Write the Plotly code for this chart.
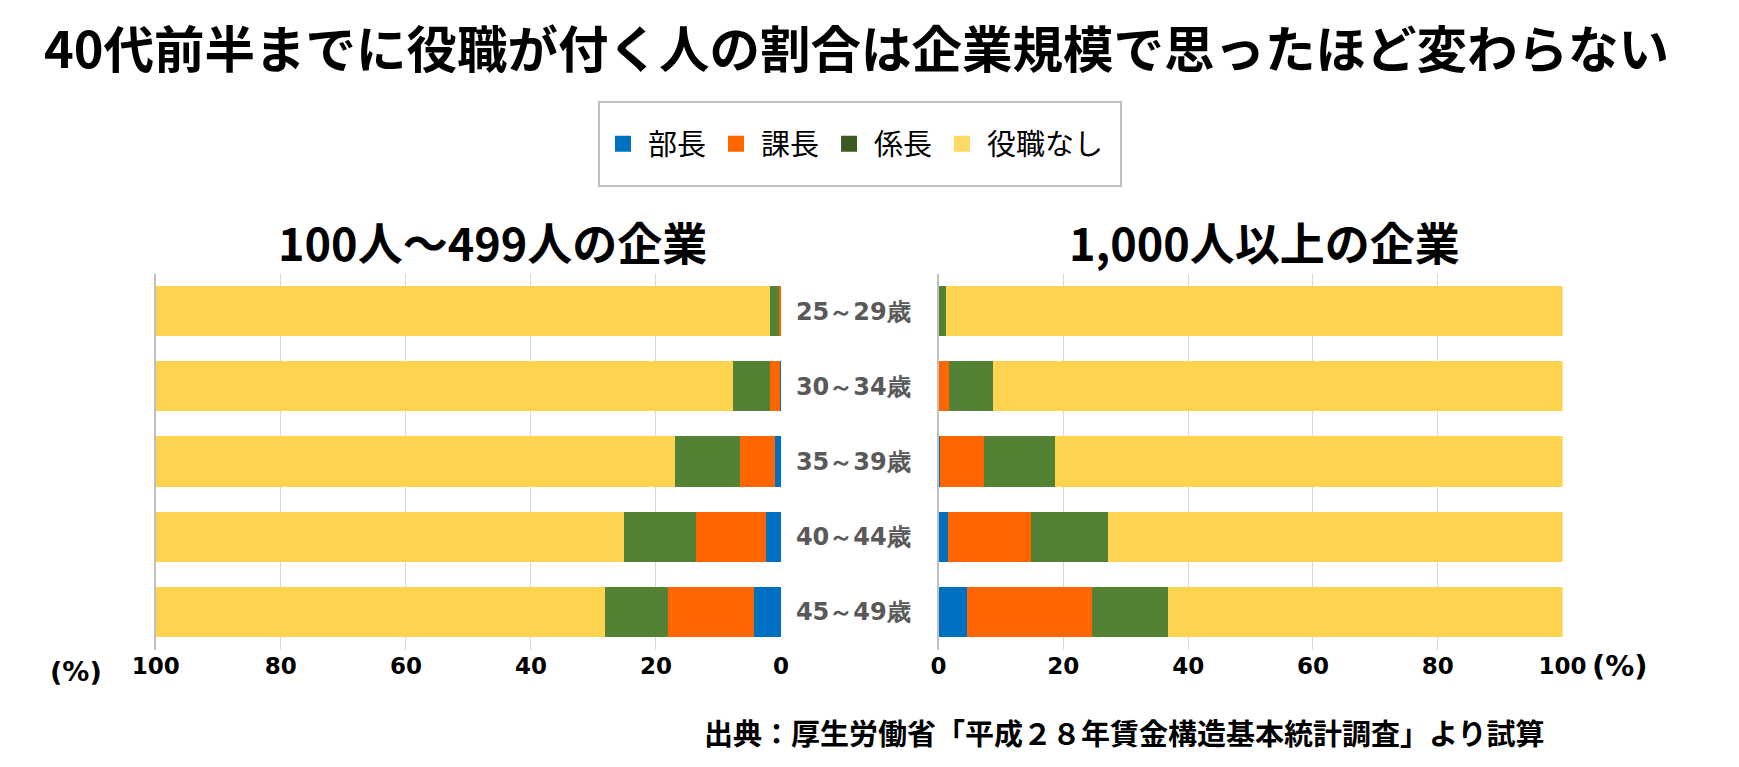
import plotly.graph_objects as go

W, H = 1739, 767
FONT = "Noto Sans CJK JP"
NUMFONT = "DejaVu Sans"

age_groups = ["25～29歳", "30～34歳", "35～39歳", "40～44歳", "45～49歳"]
series_names = ["部長", "課長", "係長", "役職なし"]

# 100人～499人の企業 (%)
small_bucho = [0.1, 0.15, 1.0, 2.4, 4.3]
small_kacho = [0.2, 1.65, 5.6, 11.2, 13.7]
small_kakaricho = [1.4, 5.9, 10.3, 11.5, 10.1]
small_none = [round(100 - a - b - c, 2) for a, b, c in zip(small_bucho, small_kacho, small_kakaricho)]

# 1,000人以上の企業 (%)
large_bucho = [0.0, 0.05, 0.2, 1.5, 4.6]
large_kacho = [0.1, 1.7, 7.1, 13.4, 20.0]
large_kakaricho = [1.1, 7.0, 11.4, 12.2, 12.2]
large_none = [round(100 - a - b - c, 2) for a, b, c in zip(large_bucho, large_kacho, large_kakaricho)]

x_ticks = [0, 20, 40, 60, 80, 100]

bar_colors = ["#0070C0", "#FF6600", "#548235", "#FED34F"]
legend_colors = ["#0070C0", "#FF6600", "#3A5A23", "#FFD966"]

fig = go.Figure()

small = [small_bucho, small_kacho, small_kakaricho, small_none]
large = [large_bucho, large_kacho, large_kakaricho, large_none]

for name, vals, col in zip(series_names, small, bar_colors):
    fig.add_trace(go.Bar(y=age_groups, x=vals, orientation="h", name=name,
                         marker=dict(color=col, line=dict(width=0)),
                         xaxis="x", yaxis="y", showlegend=False))
for name, vals, col in zip(series_names, large, bar_colors):
    fig.add_trace(go.Bar(y=age_groups, x=vals, orientation="h", name=name,
                         marker=dict(color=col, line=dict(width=0)),
                         xaxis="x2", yaxis="y2", showlegend=False))
# legend entries
for name, col in zip(series_names, legend_colors):
    fig.add_trace(go.Scatter(x=[None], y=[None], mode="markers", name=name,
                             marker=dict(symbol="square", size=16, color=col),
                             xaxis="x2", yaxis="y2", showlegend=True))

def px_x(p):
    return p / W

def px_y(p):
    return 1 - p / H

ydom = [px_y(649.5), px_y(273.5)]
tickfont = dict(family=NUMFONT, size=23, color="#000000", weight="bold")

common_x = dict(showgrid=True, gridcolor="#D9D9D9", gridwidth=1, zeroline=False,
                tickvals=x_ticks, ticks="",
                tickfont=tickfont, showline=False, fixedrange=True, automargin=False)

fig.update_layout(
    width=W, height=H,
    margin=dict(l=0, r=0, t=0, b=0, autoexpand=False),
    paper_bgcolor="white", plot_bgcolor="white",
    barmode="stack", bargap=1/3,
    font=dict(family=FONT),
    title=dict(text="40代前半までに役職が付く人の割合は企業規模で思ったほど変わらない",
               x=px_x(44), xanchor="left", y=px_y(50), yanchor="middle",
               font=dict(family=FONT, size=50.5, color="#000000", weight="bold")),
    xaxis=dict(domain=[px_x(155.8), px_x(781)], range=[100, 0], anchor="y", **common_x),
    xaxis2=dict(domain=[px_x(938.5), px_x(1562.6)], range=[0, 100], anchor="y2", **common_x),
    yaxis=dict(domain=ydom, anchor="x", categoryorder="array", categoryarray=age_groups,
               autorange="reversed", showticklabels=False, showline=True,
               linecolor="#BFBFBF", linewidth=2, showgrid=False, ticks="", automargin=False),
    yaxis2=dict(domain=ydom, anchor="x2", categoryorder="array", categoryarray=age_groups,
                autorange="reversed", showticklabels=True, showline=True,
                linecolor="#BFBFBF", linewidth=2, showgrid=False, ticks="",
                ticklabelstandoff=21, automargin=False,
                tickfont=dict(family=NUMFONT, size=24, color="#595959", weight="bold")),
    legend=dict(orientation="h", x=px_x(598), xanchor="left", y=px_y(144), yanchor="middle",
                bgcolor="rgba(0,0,0,0)", borderwidth=0, traceorder="normal",
                itemwidth=40,
                font=dict(family=FONT, size=29, color="#000000")),
    shapes=[dict(type="rect", xref="paper", yref="paper",
                 x0=px_x(599), x1=px_x(1121), y0=px_y(186), y1=px_y(102),
                 line=dict(color="#BFBFBF", width=2), fillcolor="rgba(0,0,0,0)")],
    annotations=[
        dict(text="100人～499人の企業", x=px_x(493), y=px_y(241), xref="paper", yref="paper",
             showarrow=False, xanchor="center", yanchor="middle",
             font=dict(family=FONT, size=45, color="#000000", weight="bold")),
        dict(text="1,000人以上の企業", x=px_x(1264.5), y=px_y(241), xref="paper", yref="paper",
             showarrow=False, xanchor="center", yanchor="middle",
             font=dict(family=FONT, size=45, color="#000000", weight="bold")),
        dict(text="(%)", x=px_x(76), y=px_y(671), xref="paper", yref="paper",
             showarrow=False, xanchor="center", yanchor="middle",
             font=dict(family=NUMFONT, size=27, color="#000000", weight="bold")),
        dict(text="(%)", x=px_x(1620), y=px_y(666), xref="paper", yref="paper",
             showarrow=False, xanchor="center", yanchor="middle",
             font=dict(family=NUMFONT, size=29, color="#000000", weight="bold")),
        dict(text="出典：厚生労働省「平成２８年賃金構造基本統計調査」より試算",
             x=px_x(1123.5), y=px_y(732), xref="paper", yref="paper",
             showarrow=False, xanchor="center", yanchor="middle",
             font=dict(family=FONT, size=29, color="#000000", weight="bold")),
    ],
)

fig.write_html("out.html", config={"displayModeBar": False},
               post_script="document.body.style.margin='0';document.body.style.overflow='hidden';")
